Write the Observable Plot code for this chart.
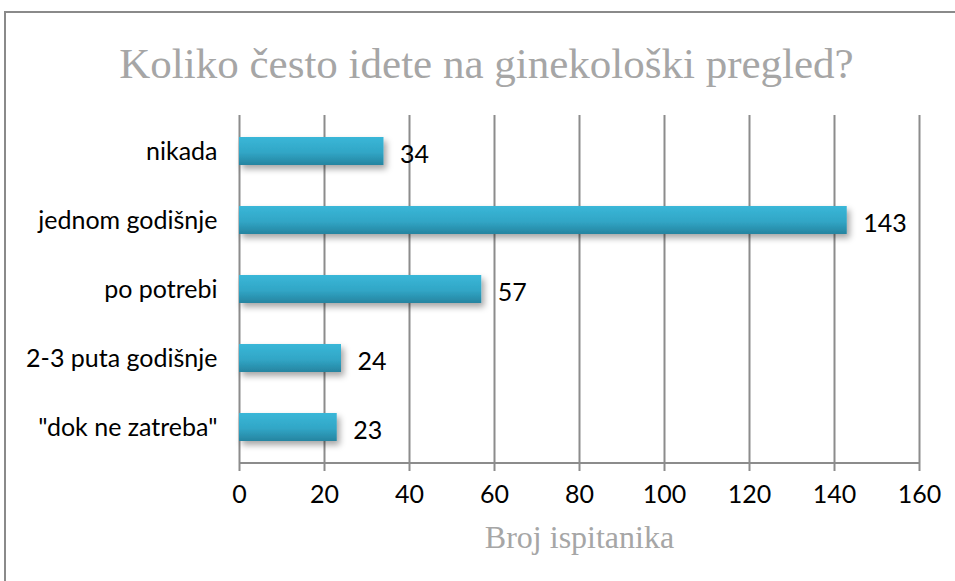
<!DOCTYPE html>
<html><head><meta charset="utf-8">
<script src="https://cdn.jsdelivr.net/npm/d3@7"></script>
<script src="https://cdn.jsdelivr.net/npm/@observablehq/plot@0.6"></script>
<style>
html,body{margin:0;padding:0;background:#fff;overflow:hidden;}
#wrap{position:relative;width:955px;height:581px;}
#frame{position:absolute;left:4px;top:11px;width:970px;height:600px;border:2px solid #8a8a8a;box-sizing:border-box;}
#title{position:absolute;left:0;width:973px;top:39px;text-align:center;font-family:"Liberation Serif","Times New Roman",serif;font-size:43px;color:#a6a6a6;line-height:50px;}
#chart{position:absolute;left:0;top:0;}
#chart svg{overflow:visible;}
</style></head><body>
<div id="wrap"><div id="frame"></div><div id="title">Koliko često idete na ginekološki pregled?</div><div id="chart"></div></div>
<script>
const categories = ["nikada", "jednom godišnje", "po potrebi", "2-3 puta godišnje", "\"dok ne zatreba\""];
const values = [34, 143, 57, 24, 23];
const xTicks = [0, 20, 40, 60, 80, 100, 120, 140, 160];
const data = categories.map((c, i) => ({category: c, value: values[i]}));

const defs = () => {
  const d = d3.create("svg:defs");
  const g = d.append("linearGradient").attr("id", "barGrad").attr("x1", 0).attr("y1", 0).attr("x2", 0).attr("y2", 1);
  g.append("stop").attr("offset", "0%").attr("stop-color", "#3ab7d8");
  g.append("stop").attr("offset", "55%").attr("stop-color", "#31a6c6");
  g.append("stop").attr("offset", "100%").attr("stop-color", "#2684a0");
  const f = d.append("filter").attr("id", "shadow").attr("x", "-10%").attr("y", "-30%").attr("width", "130%").attr("height", "190%");
  f.append("feDropShadow").attr("dx", 3).attr("dy", 4).attr("stdDeviation", 3).attr("flood-color", "#000").attr("flood-opacity", 0.35);
  return d.node();
};

// bottom axis baseline drawn through the x scale
const baseline = (index, scales, values, dims) => {
  const y = dims.height - dims.marginBottom;
  return d3.create("svg:line")
    .attr("x1", scales.x(0)).attr("x2", scales.x(160))
    .attr("y1", y).attr("y2", y)
    .attr("stroke", "#8c8c8c").attr("stroke-width", 2).node();
};

const plot = Plot.plot({
  width: 955,
  height: 581,
  marginLeft: 239,
  marginRight: 36,
  marginTop: 115,
  marginBottom: 118,
  style: {fontFamily: "Lato, 'Open Sans', sans-serif", fontSize: "25px", color: "#000", background: "transparent"},
  x: {domain: [0, 160], ticks: xTicks},
  y: {domain: categories, paddingInner: 0.6, paddingOuter: 0.3},
  marks: [
    defs,
    Plot.gridX(xTicks, {stroke: "#8c8c8c", strokeOpacity: 1, strokeWidth: 2}),
    baseline,
    Plot.axisX({ticks: xTicks, tickSize: 8, tickPadding: 14, stroke: "#8c8c8c", strokeWidth: 2, label: "Broj ispitanika", labelAnchor: "center", labelArrow: "none", labelOffset: 84, fontSize: 25}),
    Plot.axisY({tickSize: 0, tickPadding: 22, label: null, fontSize: 25}),
    Plot.barX(data, {x: "value", y: "category", fill: "url(#barGrad)"}),
    Plot.text(data, {x: "value", y: "category", text: d => String(d.value), textAnchor: "start", dx: 16, dy: 3, fontSize: 25, fill: "#000"})
  ]
});
document.getElementById("chart").appendChild(plot);
const svg = d3.select(plot);
svg.selectAll("g[aria-label='bar']").attr("filter", "url(#shadow)");
svg.selectAll("g[aria-label='x-axis label'] text").style("font-family", "'Liberation Serif','Times New Roman',serif").style("font-size", "32px").attr("fill", "#a6a6a6");
</script>
</body></html>
